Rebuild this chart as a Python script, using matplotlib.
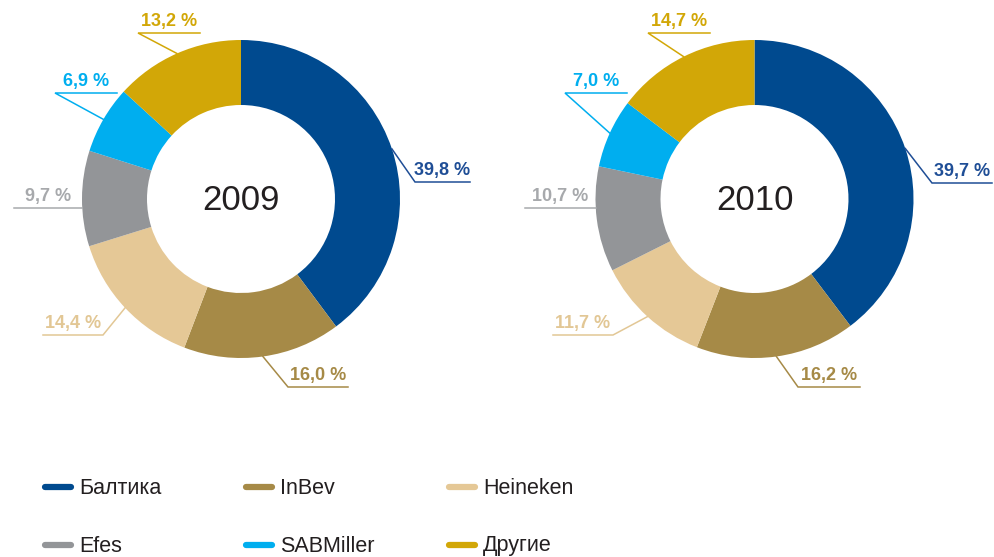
import numpy as np
import matplotlib
matplotlib.use("Agg")
import matplotlib.pyplot as plt
from matplotlib.lines import Line2D

plt.rcParams['font.family'] = ['Liberation Sans', 'DejaVu Sans']

# ---- data ----
categories = ["Балтика", "InBev", "Heineken", "Efes", "SABMiller", "Другие"]
years = ["2009", "2010"]
shares_2009 = [39.8, 16.0, 14.4, 9.7, 6.9, 13.2]
shares_2010 = [39.7, 16.2, 11.7, 10.7, 7.0, 14.7]
colors = ["#004A8F", "#A68A47", "#E5C896", "#939598", "#00AEEF", "#D2A707"]
label_colors = ["#1F4E96", "#A68A47", "#E2C795", "#A7A9AC", "#00AEEF", "#D2A707"]

# ---- layout (pixel coordinates of the 994x557 canvas, y down) ----
W, H = 994, 557
centers = [(241, 199), (754.5, 199)]
R_OUT, R_IN = 159, 94
# elbow (x, y) of each leader line and x end of its horizontal underline;
# x None -> the underline starts straight from the ring at height y
elbows = {
    0: [(415, 182, 470), (288, 387, 348), (103, 335, 43), (None, 208, 14), (55, 93, 117), (138, 33, 200)],
    1: [(932, 183, 992), (798, 387, 860), (613, 335, 553), (None, 208, 525), (565, 93, 627), (648, 33, 710)],
}

fig = plt.figure(figsize=(W / 100, H / 100), dpi=100)
ax = fig.add_axes([0, 0, 1, 1])
ax.set_xlim(0, W)
ax.set_ylim(H, 0)
ax.set_aspect('equal')
ax.axis('off')

for k, (vals, year) in enumerate(zip([shares_2009, shares_2010], years)):
    cx, cy = centers[k]
    wedges, _ = ax.pie(vals, colors=colors, startangle=-90, counterclock=True,
                       radius=R_OUT, center=(cx, cy),
                       wedgeprops=dict(width=R_OUT - R_IN, linewidth=0))
    ax.text(cx, cy + 1, year, ha='center', va='center', fontsize=25,
            color='#231F20')
    for i, w in enumerate(wedges):
        ex, ey, hx = elbows[k][i]
        if ex is None:
            ex = cx - np.sqrt(R_OUT ** 2 - (ey - cy) ** 2)
            axp, ayp = ex, ey
        else:
            mid = np.deg2rad((w.theta1 + w.theta2) / 2)
            axp, ayp = cx + R_OUT * np.cos(mid), cy + R_OUT * np.sin(mid)
        ax.plot([axp, ex, hx], [ayp, ey, ey], color=label_colors[i], lw=1.1,
                solid_joinstyle='miter')
        txt = f"{vals[i]:.1f}".replace('.', ',') + " %"
        ax.text((ex + hx) / 2, ey - 3, txt, ha='center', va='bottom',
                fontsize=13, fontweight='bold', color=label_colors[i])
ax.set_xlim(0, W)
ax.set_ylim(H, 0)

# ---- legend (row-wise, 3 columns) ----
col_x = [42, 243, 446]
row_y = [487, 545]
for i, (cat, c) in enumerate(zip(categories, colors)):
    x0 = col_x[i % 3]
    y0 = row_y[i // 3]
    ax.add_line(Line2D([x0 + 3, x0 + 29], [y0, y0], color=c, lw=4.5,
                       solid_capstyle='round'))
    ax.text(x0 + 37, y0 + 1, cat, ha='left', va='center', fontsize=15.5,
            color='#231F20')

fig.savefig("out.png", dpi=100)
